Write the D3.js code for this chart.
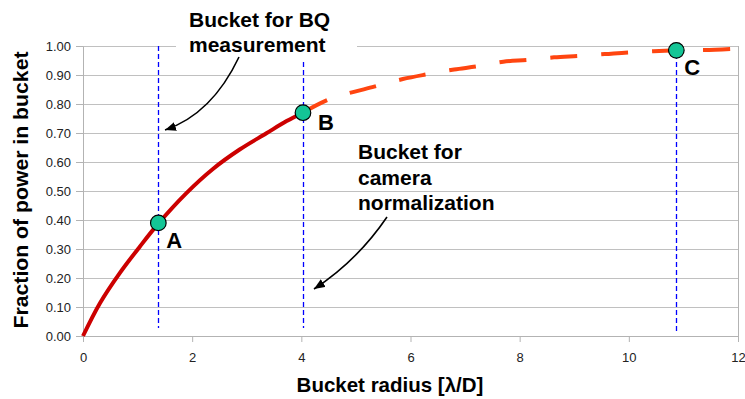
<!DOCTYPE html>
<html>
<head>
<meta charset="utf-8">
<script src="https://cdn.jsdelivr.net/npm/d3@7"></script>
<style>
body { margin: 0; background: #fff; }
text { font-family: "Liberation Sans", Arial, sans-serif; }
.grid line { stroke: #c0c0c0; stroke-width: 1; }
.axis path, .axis line { stroke: #b3b3b3; }
.axis text { font-size: 13px; fill: #222; }
.note { font-size: 21px; font-weight: bold; fill: #000; }
.pt-label { font-size: 22px; font-weight: bold; fill: #000; }
.title { font-size: 20.5px; font-weight: bold; fill: #000; }
</style>
</head>
<body>
<div id="chart"></div>
<script>
// measured curve (solid part, up to point B)
var radiusMeasured = [0, 0.31, 0.67, 1.04, 1.39, 1.89, 2.38, 2.87, 3.36, 3.73, 4.03];
var powerMeasured  = [0, 0.113, 0.216, 0.308, 0.39, 0.492, 0.576, 0.643, 0.699, 0.741, 0.77];

// extrapolated part (dashed)
var radiusExtra = [4.03, 4.52, 5.3, 5.86, 6.32, 6.8, 7.23, 7.7, 8.15, 8.63, 9.08, 9.56, 10.0, 10.87, 11.39, 11.9];
var powerExtra  = [0.77, 0.817, 0.858, 0.886, 0.903, 0.919, 0.93, 0.946, 0.952, 0.961, 0.966, 0.972, 0.978, 0.985, 0.986, 0.99];

// marked buckets
var bucketNames  = ["A", "B", "C"];
var bucketRadius = [1.38, 4.03, 10.87];
var bucketPower  = [0.39, 0.77, 0.985];

var xTicks = [0, 2, 4, 6, 8, 10, 12];
var yTicks = [0, 0.1, 0.2, 0.3, 0.4, 0.5, 0.6, 0.7, 0.8, 0.9, 1.0];

var W = 745, H = 399;
var svg = d3.select("#chart").append("svg")
	.attr("width", W).attr("height", H);

var defs = svg.append("defs");
defs.append("marker")
	.attr("id", "head")
	.attr("markerUnits", "userSpaceOnUse")
	.attr("markerWidth", 12).attr("markerHeight", 10)
	.attr("refX", 11).attr("refY", 4.5)
	.attr("orient", "auto")
  .append("path")
	.attr("d", "M0,0 L11,4.5 L0,9 Z")
	.attr("fill", "#000");

var x = d3.scaleLinear().domain([0, 12]).range([83, 738]);
var y = d3.scaleLinear().domain([0, 1]).range([336, 46]);

// gridlines
svg.append("g").attr("class", "grid")
  .selectAll("line").data(yTicks.filter(function(d) { return d > 0; }))
  .enter().append("line")
	.attr("x1", x(0)).attr("x2", x(12))
	.attr("y1", function(d) { return Math.round(y(d)) + 0.5; })
	.attr("y2", function(d) { return Math.round(y(d)) + 0.5; });

// right border
svg.append("line")
	.attr("x1", x(12) + 0.5).attr("x2", x(12) + 0.5)
	.attr("y1", y(1)).attr("y2", y(0))
	.attr("stroke", "#b3b3b3");

// axes
svg.append("g").attr("class", "axis")
	.attr("transform", "translate(0," + y(0) + ")")
	.call(d3.axisBottom(x).tickValues(xTicks).tickFormat(d3.format("d"))
		.tickSize(6).tickSizeOuter(0).tickPadding(11));

svg.append("g").attr("class", "axis")
	.attr("transform", "translate(" + x(0) + ",0)")
	.call(d3.axisLeft(y).tickValues(yTicks).tickFormat(d3.format(".2f"))
		.tickSize(7).tickSizeOuter(0).tickPadding(5));

// blue dashed bucket lines
svg.append("g").selectAll("line").data(bucketRadius)
  .enter().append("line")
	.attr("x1", function(d) { return Math.round(x(d)) + 0.5; })
	.attr("x2", function(d) { return Math.round(x(d)) + 0.5; })
	.attr("y1", y(1))
	.attr("y2", function(d, i) { return i == 2 ? y(0.014) : y(0.028); })
	.attr("stroke", "#0000ff")
	.attr("stroke-width", 1.3)
	.attr("stroke-dasharray", "5,3");

// white box behind the top note
svg.append("rect")
	.attr("x", 176).attr("y", 0).attr("width", 181).attr("height", 62)
	.attr("fill", "#fff");

var line = d3.line()
	.x(function(d) { return x(d[0]); })
	.y(function(d) { return y(d[1]); })
	.curve(d3.curveCatmullRom.alpha(0.5));

svg.append("path")
	.datum(d3.zip(radiusExtra, powerExtra))
	.attr("d", line)
	.attr("fill", "none")
	.attr("stroke", "#ff4510")
	.attr("stroke-width", 4)
	.attr("stroke-dasharray", "27,24");

svg.append("path")
	.datum(d3.zip(radiusMeasured, powerMeasured))
	.attr("d", line)
	.attr("fill", "none")
	.attr("stroke", "#cc0000")
	.attr("stroke-width", 4);

// points A, B, C
svg.append("g").selectAll("circle").data(bucketRadius)
  .enter().append("circle")
	.attr("cx", function(d) { return x(d); })
	.attr("cy", function(d, i) { return y(bucketPower[i]); })
	.attr("r", 7.8)
	.attr("fill", "#14c596")
	.attr("stroke", "#000")
	.attr("stroke-width", 1.2);

var labelOff = [[8, 25], [15, 17], [8, 25]];
svg.append("g").selectAll("text").data(bucketNames)
  .enter().append("text")
	.attr("class", "pt-label")
	.attr("x", function(d, i) { return x(bucketRadius[i]) + labelOff[i][0]; })
	.attr("y", function(d, i) { return y(bucketPower[i]) + labelOff[i][1]; })
	.text(function(d) { return d; });

// notes
var note1 = svg.append("text").attr("class", "note");
note1.append("tspan").attr("x", 189).attr("y", 27).text("Bucket for BQ");
note1.append("tspan").attr("x", 189).attr("y", 52).text("measurement");

var note2 = svg.append("text").attr("class", "note");
note2.append("tspan").attr("x", 358).attr("y", 159).text("Bucket for");
note2.append("tspan").attr("x", 358).attr("y", 184.5).text("camera");
note2.append("tspan").attr("x", 358).attr("y", 210).text("normalization");

// arrows
svg.append("path")
	.attr("d", "M239,57 Q212,114 165,130")
	.attr("fill", "none").attr("stroke", "#000").attr("stroke-width", 1.6)
	.attr("marker-end", "url(#head)");
svg.append("path")
	.attr("d", "M387,217 Q357,261 314,289")
	.attr("fill", "none").attr("stroke", "#000").attr("stroke-width", 1.6)
	.attr("marker-end", "url(#head)");

// axis titles
svg.append("text").attr("class", "title")
	.attr("x", 390).attr("y", 392)
	.attr("text-anchor", "middle")
	.text("Bucket radius [λ/D]");

svg.append("text").attr("class", "title")
	.attr("transform", "translate(28,190) rotate(-90)")
	.attr("text-anchor", "middle")
	.attr("textLength", 277)
	.attr("lengthAdjust", "spacingAndGlyphs")
	.text("Fraction of power in bucket");
</script>
</body>
</html>
